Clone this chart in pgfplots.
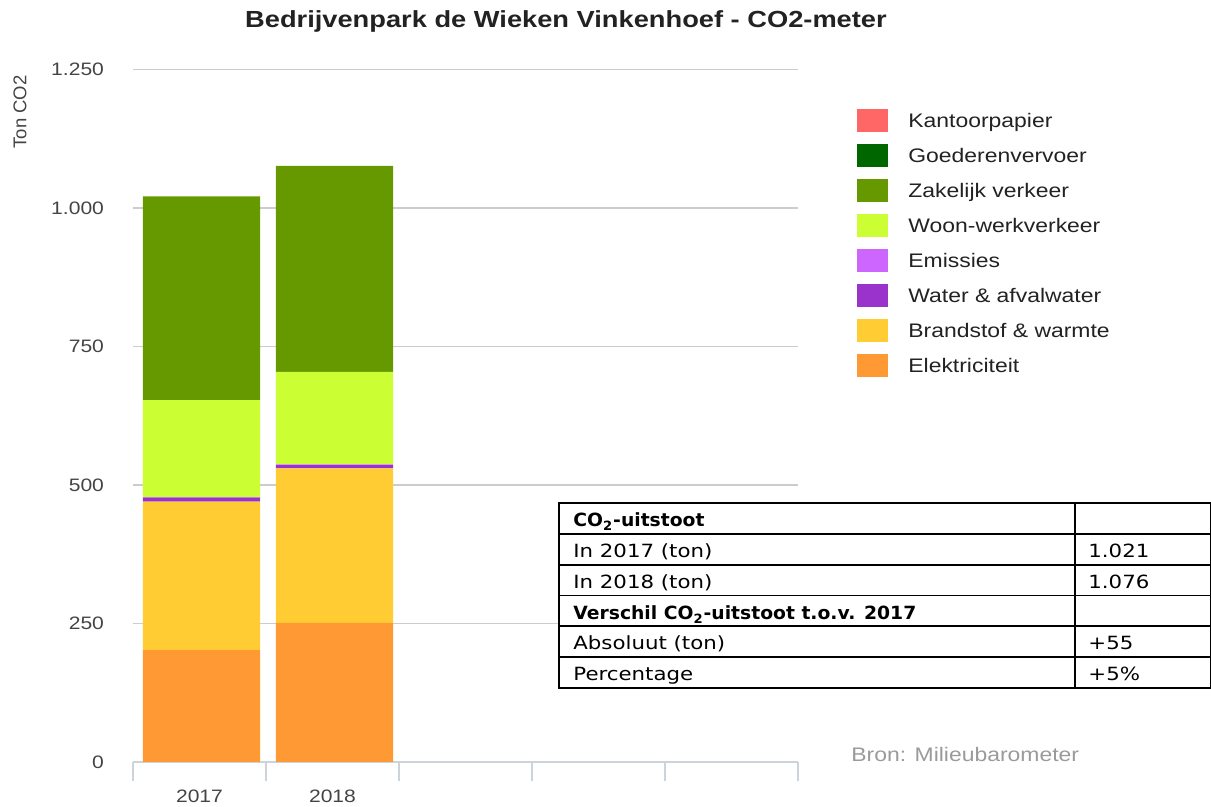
\documentclass[border=0pt]{standalone}
\usepackage{fontspec}
\setmainfont{Liberation Sans}[FakeStretch=1.17]
\newfontfamily\plainsans{Liberation Sans}
\newfontfamily\tablefont{DejaVu Sans}[FakeStretch=1.17, BoldFeatures={FakeStretch=1.03}]
\usepackage{pgfplots}
\pgfplotsset{compat=1.18}
\definecolor{kantoor}{HTML}{FF6666}
\definecolor{goederen}{HTML}{006600}
\definecolor{zakelijk}{HTML}{669900}
\definecolor{woonwerk}{HTML}{CCFF33}
\definecolor{emissies}{HTML}{CC66FF}
\definecolor{water}{HTML}{9933CC}
\definecolor{brandstof}{HTML}{FFCC33}
\definecolor{elek}{HTML}{FF9933}
\definecolor{gridgrey}{HTML}{CCCCCC}
\definecolor{axisgrey}{HTML}{CCD3DA}
\definecolor{tickgrey}{HTML}{444444}
\definecolor{legtext}{HTML}{222222}
\definecolor{bron}{HTML}{9A9A9A}

\begin{document}
\begin{tikzpicture}
\useasboundingbox (0pt,0pt) rectangle (605.5pt,403.5pt);
\begin{axis}[
    at={(66.5pt,22.5pt)}, anchor=south west,
    scale only axis, width=332.5pt, height=346.25pt,
    ybar stacked, bar width=0.88, bar shift=0.015,
    xmin=-0.5, xmax=4.5, ymin=0, ymax=1250,
    axis x line*=bottom, axis y line*=left,
    x axis line style={draw=axisgrey, line width=0.8pt},
    y axis line style={draw=none},
    xtick={0,1}, xticklabels={2017,2018},
    xtick style={draw=none},
    extra x ticks={-0.5,0.5,1.5,2.5,3.5,4.5},
    extra x tick labels={},
    extra x tick style={tick align=outside, major tick length=9.5pt,
        xtick style={draw=axisgrey, line width=0.8pt}},
    ytick={0,250,500,750,1000,1250},
    ytick style={draw=none},
    ymajorgrids, grid style={draw=gridgrey, line width=0.7pt},
    /pgf/number format/.cd, 1000 sep={.}, assume math mode=true, /pgfplots/.cd,
    tick label style={font=\fontsize{9}{11}\selectfont, text=tickgrey},
    yticklabel style={xshift=-11pt},
    xticklabel style={inner sep=0pt, anchor=north, yshift=-14pt},
    ylabel={Ton CO2},
    ylabel style={at={(axis description cs:-0.17,0.9386)}, anchor=center,
        font=\plainsans\fontsize{9.25}{11}\selectfont, text=tickgrey},
    title={Bedrijvenpark de Wieken Vinkenhoef - CO2-meter},
    title style={at={(axis description cs:0.6511,1.0599)}, anchor=base, yshift=-6pt,
        font=\fontsize{11.65}{14}\selectfont\bfseries, text=legtext},
    legend image code/.code={\fill[#1] (0pt,-5.75pt) rectangle (15.5pt,5.75pt);},
    reverse legend,
    legend style={at={(axis description cs:1.0887,0.9437)}, anchor=north west,
        draw=none, fill=none, inner sep=0pt, row sep=6pt, column sep=10pt,
        nodes={inner sep=0pt, text height=9pt, text depth=2pt,
            font=\fontsize{9.8}{11}\selectfont, text=legtext},
        cells={anchor=west}},
]
\addplot[fill=elek, draw=none] coordinates {(0,202) (1,251)};
\addlegendentry{Elektriciteit}
\addplot[fill=brandstof, draw=none] coordinates {(0,268) (1,279)};
\addlegendentry{Brandstof \& warmte}
\addplot[fill=water, draw=none] coordinates {(0,7) (1,6)};
\addlegendentry{Water \& afvalwater}
\addplot[fill=emissies, draw=none] coordinates {(0,1) (1,1)};
\addlegendentry{Emissies}
\addplot[fill=woonwerk, draw=none] coordinates {(0,175) (1,167)};
\addlegendentry{Woon-werkverkeer}
\addplot[fill=zakelijk, draw=none] coordinates {(0,368) (1,372)};
\addlegendentry{Zakelijk verkeer}
\addplot[fill=goederen, draw=none] coordinates {(0,0) (1,0)};
\addlegendentry{Goederenvervoer}
\addplot[fill=kantoor, draw=none] coordinates {(0,0) (1,0)};
\addlegendentry{Kantoorpapier}
\end{axis}

% overlay in pixel coordinates of the reference (origin top left)
\begin{scope}[x=0.5pt, y=-0.5pt, shift={(0pt,403.5pt)}]
\node[anchor=west, inner sep=0pt, text=bron, font=\fontsize{9.8}{11}\selectfont] at (851,755) {Bron: Milieubarometer};
\fill[white] (559,503) rectangle (1215,688);
\draw[line width=0.9pt] (559,503) rectangle (1210.5,688);
\foreach \r in {1,...,5} \draw[line width=0.9pt] (559,503+30.83*\r) -- (1210.5,503+30.83*\r);
\draw[line width=0.9pt] (1075,503) -- (1075,688);
\begin{scope}[every node/.style={anchor=base west, inner sep=0pt, font=\tablefont\fontsize{9.1}{11}\selectfont}]
\node at (573,527) {\bfseries CO\textsubscript{2}-uitstoot};
\node at (573,558) {In 2017 (ton)};
\node at (1088,558) {1.021};
\node at (573,589) {In 2018 (ton)};
\node at (1088,589) {1.076};
\node at (573,620) {\bfseries Verschil CO\textsubscript{2}-uitstoot t.o.v. 2017};
\node at (573,650) {Absoluut (ton)};
\node at (1088,650) {+55};
\node at (573,681) {Percentage};
\node at (1088,681) {+5\%};
\end{scope}
\end{scope}
\end{tikzpicture}
\end{document}
